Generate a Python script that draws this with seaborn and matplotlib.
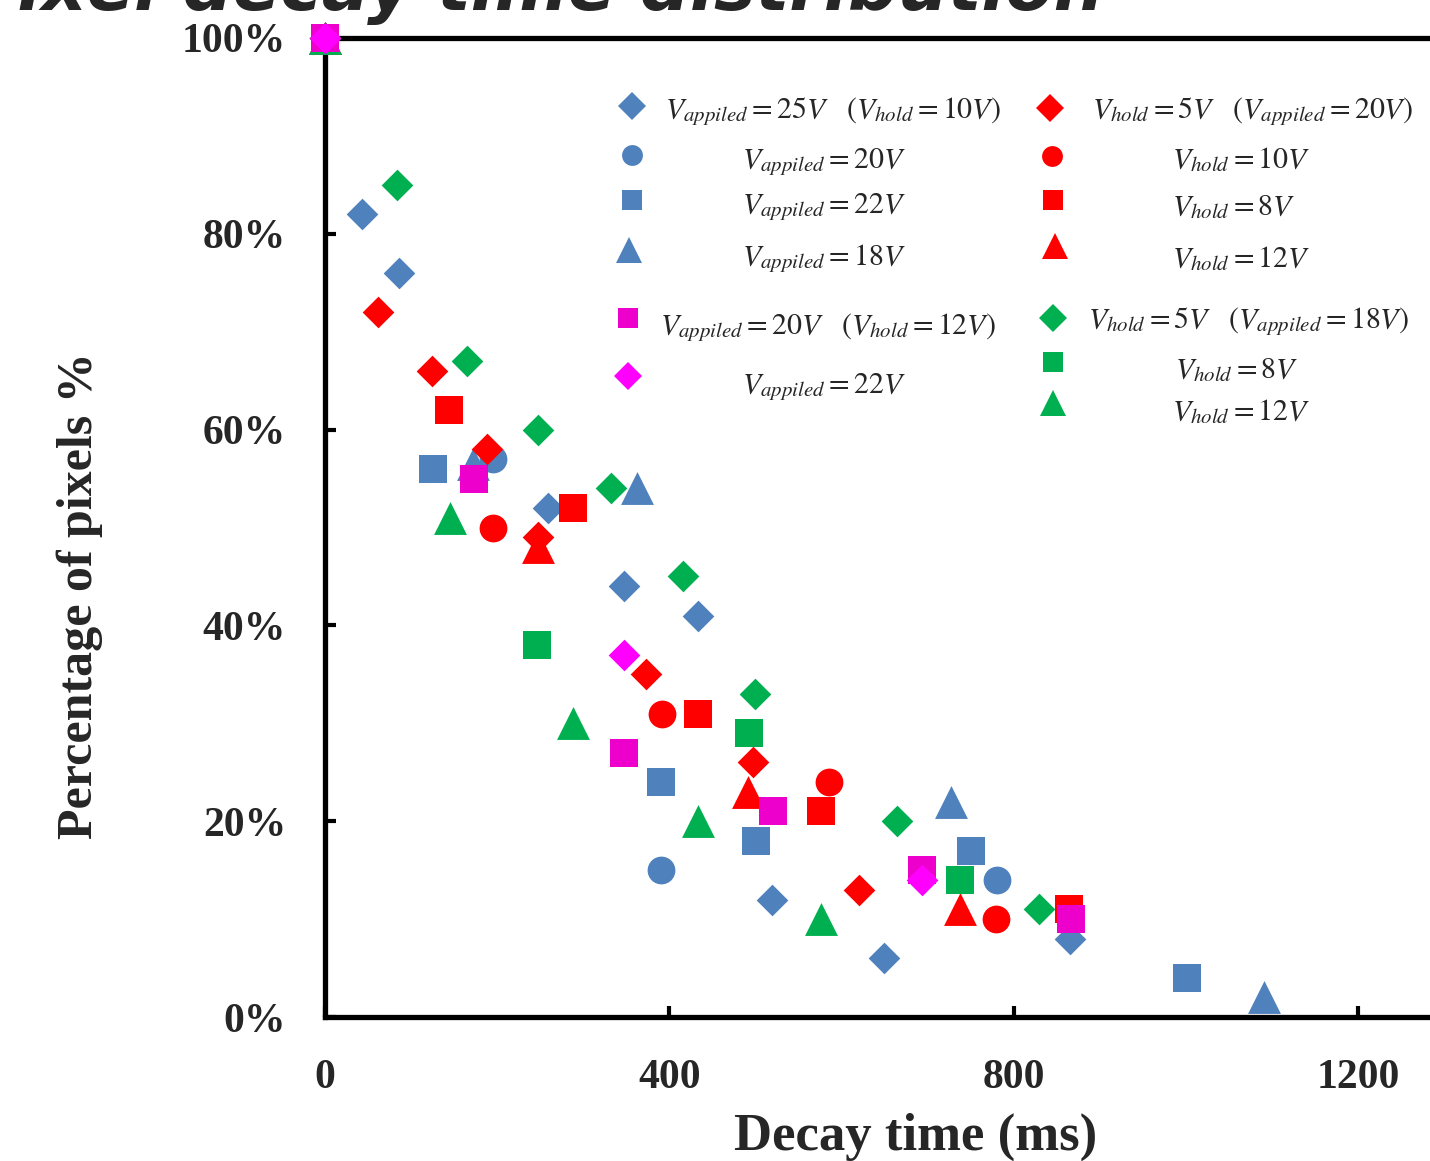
import matplotlib
matplotlib.use("Agg")
import matplotlib.pyplot as plt
import seaborn as sns
from matplotlib.lines import Line2D

# ---------------- data (decay time ms, percentage of pixels %) ----------------
# Blue group: V_appiled varied (V_hold = 10V)
app25_x = [0, 43, 86, 259, 347, 433, 519, 649, 866]
app25_y = [100, 82, 76, 52, 44, 41, 12, 6, 8]
app20_x = [0, 195, 390, 781]
app20_y = [100, 57, 15, 14]
app22_x = [0, 125, 390, 501, 750, 1001]
app22_y = [100, 56, 24, 18, 17, 4]
app18_x = [0, 172, 363, 727, 1091]
app18_y = [100, 56.5, 54, 22, 2]
# Red group: V_hold varied (V_appiled = 20V)
hold5a_x = [0, 62, 124, 188, 248, 373, 497, 620]
hold5a_y = [100, 72, 66, 58, 49, 35, 26, 13]
hold10a_x = [0, 195, 391, 586, 780]
hold10a_y = [100, 50, 31, 24, 10]
hold8a_x = [0, 144, 288, 433, 576, 864]
hold8a_y = [100, 62, 52, 31, 21, 11]
hold12a_x = [0, 247, 491, 738]
hold12a_y = [100, 48, 23, 11]
# Green group: V_hold varied (V_appiled = 18V)
hold5b_x = [0, 84, 165, 248, 332, 416, 499, 664, 830]
hold5b_y = [100, 85, 67, 60, 54, 45, 33, 20, 11]
hold8b_x = [0, 246, 492, 738]
hold8b_y = [100, 38, 29, 14]
hold12b_x = [0, 145, 288, 433, 576]
hold12b_y = [100, 51, 30, 20, 10]
# Magenta group: V_appiled varied (V_hold = 12V)
app20c_x = [0, 173, 347, 520, 694, 867]
app20c_y = [100, 55, 27, 21, 15, 10]
app22c_x = [0, 347, 694]
app22c_y = [100, 37, 14]

x_ticks = [0, 400, 800, 1200]
x_tick_labels = ["0", "400", "800", "1200"]
y_ticks = [0, 20, 40, 60, 80, 100]
y_tick_labels = ["0%", "20%", "40%", "60%", "80%", "100%"]

BLUE = "#4F81BD"
RED = "#FF0000"
GREEN = "#00B050"
MAG = "#FF00FF"
MAG2 = "#EE00CC"

series = [
    (app25_x, app25_y, "D", BLUE, 260),
    (app20_x, app20_y, "o", BLUE, 400),
    (app22_x, app22_y, "s", BLUE, 400),
    (app18_x, app18_y, "^", BLUE, 560),
    (hold5a_x, hold5a_y, "D", RED, 260),
    (hold10a_x, hold10a_y, "o", RED, 400),
    (hold8a_x, hold8a_y, "s", RED, 400),
    (hold12a_x, hold12a_y, "^", RED, 560),
    (hold5b_x, hold5b_y, "D", GREEN, 260),
    (hold8b_x, hold8b_y, "s", GREEN, 400),
    (hold12b_x, hold12b_y, "^", GREEN, 560),
    (app20c_x, app20c_y, "s", MAG2, 400),
    (app22c_x, app22c_y, "D", MAG, 260),
]

# ---------------- style ----------------
sns.set_style("white")
plt.rcParams["font.family"] = ["Liberation Serif", "DejaVu Serif"]
plt.rcParams["mathtext.fontset"] = "stix"

W, H = 1430, 1161
fig = plt.figure(figsize=(W / 100, H / 100), dpi=100)

ax_left = 325 / W
ax_bottom = (H - 1017) / H
ax_height = (1017 - 38) / H
px_per_ms = (1358 - 325) / 1200
xmax = 1300
ax_width = xmax * px_per_ms / W
ax = fig.add_axes([ax_left, ax_bottom, ax_width, ax_height])

for xs, ys, m, c, s in series:
    sns.scatterplot(x=xs, y=ys, marker=m, color=c, s=s, linewidth=0,
                    ax=ax, legend=False, clip_on=False, zorder=3)

ax.set_xlim(0, xmax)
ax.set_ylim(0, 100)
ax.set_xticks(x_ticks)
ax.set_xticklabels(x_tick_labels)
ax.set_yticks(y_ticks)
ax.set_yticklabels(y_tick_labels)

for side in ["left", "bottom", "top"]:
    ax.spines[side].set_visible(True)
    ax.spines[side].set_linewidth(3.8)
    ax.spines[side].set_color("black")
ax.spines["right"].set_visible(False)

ax.tick_params(axis="both", direction="in", length=8, width=3, color="black",
               labelsize=30, top=False, right=False, bottom=True, left=True)
ax.tick_params(axis="y", pad=28)
ax.tick_params(axis="x", pad=30)
for lab in ax.get_xticklabels() + ax.get_yticklabels():
    lab.set_fontweight("bold")

ax.set_xlabel("Decay time (ms)", fontsize=38, fontweight="bold")
ax.xaxis.set_label_coords((916 - 325) / (ax_width * W), -(1137 - 1017) / (ax_height * H))
ax.xaxis.label.set_va("center")
ax.set_ylabel("Percentage of pixels %", fontsize=36, fontweight="bold")
ax.yaxis.set_label_coords((80 - 325) / (ax_width * W), (1017 - 596) / (ax_height * H))
ax.yaxis.label.set_va("center")

# ---------------- title (cropped at the top, as in the original) ----------------
fig.text(1103 / W, 1 - 10 / H, "Pixel decay time distribution",
         fontsize=50.5, fontweight="bold", fontstyle="italic",
         family="DejaVu Sans", ha="right", va="baseline")

# ---------------- legend (hand-laid like the original) ----------------
legend_items = [
    (632, 106, "D", BLUE, 14, 665, 118, r"$V_{appiled}=25V\quad(V_{hold}=10V)$"),
    (632, 155, "o", BLUE, 15, 742, 168, r"$V_{appiled}=20V$"),
    (632, 200, "s", BLUE, 14.5, 742, 213, r"$V_{appiled}=22V$"),
    (629, 250, "^", BLUE, 19, 742, 265, r"$V_{appiled}=18V$"),
    (628, 318, "s", MAG2, 14.5, 660, 334, r"$V_{appiled}=20V\quad(V_{hold}=12V)$"),
    (628, 376, "D", MAG, 14, 742, 393, r"$V_{appiled}=22V$"),
    (1050, 108, "D", RED, 14, 1092, 118, r"$V_{hold}=5V\quad(V_{appiled}=20V)$"),
    (1052, 156, "o", RED, 15, 1172, 168, r"$V_{hold}=10V$"),
    (1053, 200, "s", RED, 14.5, 1172, 215, r"$V_{hold}=8V$"),
    (1055, 246, "^", RED, 19, 1172, 267, r"$V_{hold}=12V$"),
    (1053, 318, "D", GREEN, 14, 1088, 328, r"$V_{hold}=5V\quad(V_{appiled}=18V)$"),
    (1053, 362, "s", GREEN, 14.5, 1175, 378, r"$V_{hold}=8V$"),
    (1053, 403, "^", GREEN, 19, 1172, 420, r"$V_{hold}=12V$"),
]
for mx, my, m, c, ms, tx, ty, lab in legend_items:
    fig.add_artist(Line2D([mx / W], [1 - my / H], transform=fig.transFigure,
                          marker=m, color=c, markersize=ms, linestyle="none",
                          markeredgewidth=0))
    fig.text(tx / W, 1 - ty / H, lab, fontsize=21.5, ha="left", va="baseline")

fig.savefig("out.png", dpi=100)
